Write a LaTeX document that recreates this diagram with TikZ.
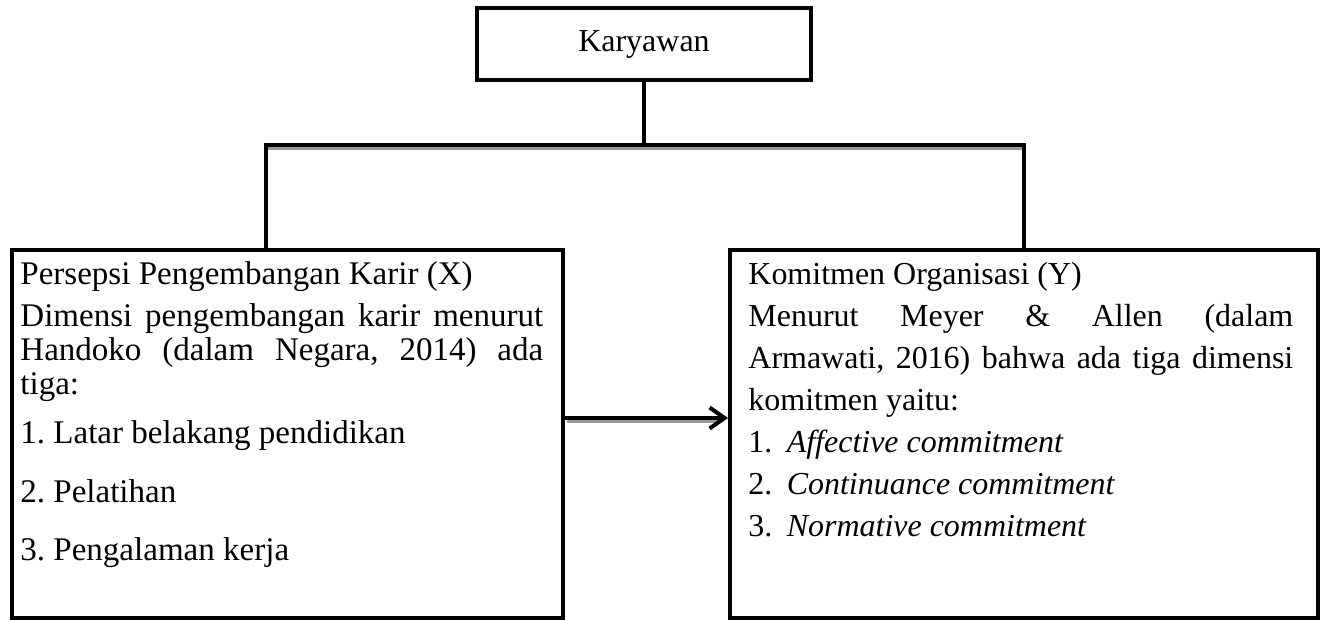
\documentclass[tikz,border=0pt]{standalone}
\usepackage{fontspec}
\setmainfont{Liberation Serif}
\frenchspacing
\usetikzlibrary{positioning, arrows.meta, calc}

\tikzset{
  kotak/.style={draw, line width=0.08cm, inner sep=0pt},
  garis/.style={line width=0.08cm, line join=miter},
  bayang/.style={line width=0.06cm, color=black!40},
  isikiri/.style={anchor=north west, inner sep=0pt, align=left, font=\fontsize{18.8}{19.3}\selectfont},
  isikanan/.style={anchor=north west, inner sep=0pt, align=left, font=\fontsize{18.2}{23.9}\selectfont},
}

\begin{document}
\begin{tikzpicture}[x=0.02cm, y=-0.02cm]
\useasboundingbox (0,0) rectangle (1324,620);
% kotak utama
\node[kotak, minimum width=6.68cm, minimum height=1.44cm, font=\fontsize{18.2}{18.8}\selectfont] (karyawan) at (644,44) {Karyawan};
\node[kotak, minimum width=11.02cm, minimum height=7.36cm] (persepsi) at (287.5,434) {};
\node[kotak, minimum width=11.76cm, minimum height=7.36cm] (komitmen) at (1024,434) {};
% isi kotak
\node[isikiri] (persepsiisi) at ($(persepsi.north west)+(10,13)$) {Persepsi Pengembangan Karir (X)\\[0.16cm]
\makebox[10.46cm][s]{Dimensi pengembangan karir menurut}\\
\makebox[10.46cm][s]{Handoko (dalam Negara, 2014) ada}\\
tiga:\\[0.32cm]
1. Latar belakang pendidikan\\[0.49cm]
2. Pelatihan\\[0.49cm]
3. Pengalaman kerja};
\node[isikanan] (komitmenisi) at ($(komitmen.north west)+(20,14)$) {Komitmen Organisasi (Y)\\
\makebox[10.9cm][s]{Menurut Meyer \& Allen (dalam}\\
\makebox[10.9cm][s]{Armawati, 2016) bahwa ada tiga dimensi}\\
komitmen yaitu:\\
1.\hspace{0.45em}\textit{Affective commitment}\\
2.\hspace{0.45em}\textit{Continuance commitment}\\
3.\hspace{0.45em}\textit{Normative commitment}};
% cabang
\coordinate (cabang) at (642,145);
\coordinate (kiriatas) at ($(persepsi.north)+(-22,0)$);
\draw[bayang] ([yshift=-0.06cm]kiriatas |- cabang) -- ([yshift=-0.06cm]komitmen.north |- cabang);
\draw[bayang] ([shift={(0.04cm,0.26cm)}]persepsi.east) -- ([shift={(-0.2cm,0.26cm)}]komitmen.west);
\draw[garis] (karyawan.south) -- (karyawan.south |- cabang);
\draw[garis] (kiriatas) -- (kiriatas |- cabang) -- (komitmen.north |- cabang) -- (komitmen.north);
\draw[garis, -{Straight Barb[length=0.3cm, width=0.42cm]}] ([yshift=0.32cm]persepsi.east) -- ([yshift=0.32cm]komitmen.west);
\end{tikzpicture}
\end{document}
